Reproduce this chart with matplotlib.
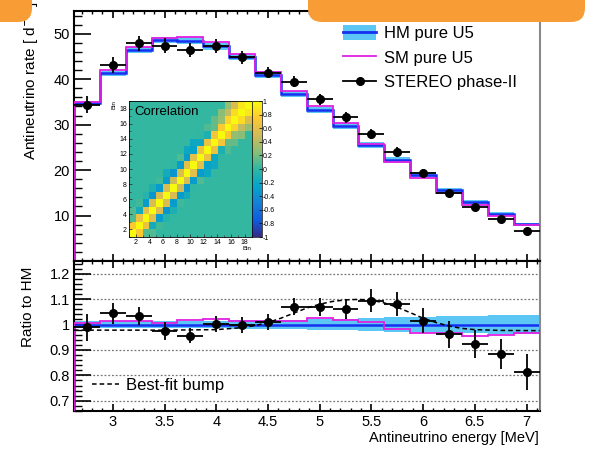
import numpy as np
import matplotlib.pyplot as plt
from matplotlib.colors import LinearSegmentedColormap
from matplotlib.lines import Line2D
from matplotlib.patches import Patch, FancyBboxPatch
from matplotlib.ticker import MultipleLocator, FixedLocator, FixedFormatter
from matplotlib.transforms import IdentityTransform

plt.rcParams['font.family'] = ['Liberation Sans', 'DejaVu Sans']
plt.rcParams['axes.unicode_minus'] = False

# Binned spectrum (0.25 MeV bins)
energy = [2.75, 3.0, 3.25, 3.5, 3.75, 4.0, 4.25, 4.5, 4.75, 5.0,
          5.25, 5.5, 5.75, 6.0, 6.25, 6.5, 6.75, 7.0]
hm_rate = [34.8, 41.3, 46.4, 48.6, 48.5, 47.2, 44.9, 41.0, 36.8, 33.3,
           29.8, 25.5, 22.2, 19.0, 15.6, 12.9, 10.4, 8.1]
hm_band = [0.014, 0.013, 0.013, 0.013, 0.014, 0.015, 0.016, 0.017, 0.018, 0.020,
           0.022, 0.025, 0.028, 0.031, 0.033, 0.035, 0.036, 0.037]
sm_ratio = [1.005, 1.015, 1.015, 1.008, 1.017, 1.020, 1.015, 1.013, 1.015, 1.026,
            1.017, 1.009, 0.982, 0.965, 0.965, 0.955, 0.960, 0.965]
data_rate = [34.4, 43.1, 47.9, 47.4, 46.4, 47.3, 44.8, 41.4, 39.4, 35.6,
             31.6, 27.9, 24.0, 19.3, 15.0, 11.9, 9.2, 6.6]
data_err = [1.80, 1.73, 1.62, 1.70, 1.46, 1.56, 1.35, 1.23, 1.21, 1.17,
            1.19, 1.15, 1.04, 0.95, 0.84, 0.71, 0.62, 0.57]

# Best-fit bump relative to HM
bump_e = [2.625, 3.5, 4.0, 4.25, 4.375, 4.5, 4.625, 4.75, 4.875, 5.0, 5.125, 5.25,
          5.375, 5.5, 5.625, 5.75, 5.875, 6.0, 6.125, 6.25, 6.375, 6.5, 6.75, 7.125]
bump_ratio = [0.978, 0.978, 0.980, 0.988, 0.996, 1.008, 1.025, 1.045, 1.065, 1.080, 1.091, 1.097,
              1.099, 1.096, 1.085, 1.068, 1.047, 1.025, 1.008, 0.994, 0.985, 0.980, 0.977, 0.976]

# Bin-to-bin correlation of the data, by distance from the diagonal
corr_off1 = [0.75, 0.65, 0.6, 0.55, 0.55, 0.55, 0.5, 0.55, 0.6, 0.6, 0.65, 0.65,
             0.7, 0.75, 0.8, 0.85, 0.9]
corr_off2 = [0.1, -0.15, -0.3, -0.35, -0.3, -0.3, -0.35, -0.3, -0.3, -0.25, -0.2,
             -0.1, 0.15, 0.3, 0.45, 0.55]
corr_off3 = [0.1, 0.05, -0.05, -0.1, 0.05, -0.15, 0.0, 0.1, -0.2, -0.2, 0.0, 0.1,
             0.15, 0.25, 0.3]
corr_rest = 0.02

energy = np.array(energy)
hm_rate = np.array(hm_rate)
hm_band = np.array(hm_band)
sm_ratio = np.array(sm_ratio)
data_rate = np.array(data_rate)
data_err = np.array(data_err)
edges = np.append(energy - 0.125, energy[-1] + 0.125)

n = len(energy)
corr = np.full((n, n), corr_rest)
for k, band in enumerate([corr_off1, corr_off2, corr_off3], start=1):
    for i, v in enumerate(band):
        corr[i, i + k] = v
        corr[i + k, i] = v
np.fill_diagonal(corr, 1.0)

# ROOT kBird palette
bird_r = [0.2082, 0.0592, 0.0780, 0.0232, 0.1802, 0.5301, 0.8186, 0.9956, 0.9764]
bird_g = [0.1664, 0.3599, 0.5041, 0.6419, 0.7178, 0.7492, 0.7328, 0.7862, 0.9832]
bird_b = [0.5293, 0.8684, 0.8385, 0.7914, 0.6425, 0.4662, 0.3499, 0.1968, 0.0539]
bird = LinearSegmentedColormap.from_list('bird', list(zip(bird_r, bird_g, bird_b)))

band_col = '#5CC6F5'
hm_col = '#1530F0'
sm_col = '#E020E0'

W, H = 590, 451
fig = plt.figure(figsize=(W / 100, H / 100), dpi=100)


def fx(px):
    return px / W


def fy(py):
    return 1 - py / H


ax = fig.add_axes([fx(74), fy(261), fx(539.5) - fx(74), fy(11) - fy(261)])
axr = fig.add_axes([fx(74), fy(411), fx(539.5) - fx(74), fy(261) - fy(411)])

for a in (ax, axr):
    a.set_xlim(2.625, 7.125)
    a.xaxis.set_major_locator(MultipleLocator(0.5))
    a.xaxis.set_minor_locator(MultipleLocator(0.1))
    a.tick_params(axis='x', which='major', direction='in', top=True, length=5, width=1.2)
    a.tick_params(axis='x', which='minor', direction='in', top=True, length=2.5, width=1.0)
    a.tick_params(axis='y', which='major', direction='in', right=False, length=12, width=1.2,
                  labelsize=10.5, pad=3)
    a.tick_params(axis='y', which='minor', direction='in', right=False, length=5.5, width=1.0)
    for s in ('left', 'top', 'bottom'):
        a.spines[s].set_linewidth(1.5)
    a.spines['right'].set_color('#8a8a8a')
    a.spines['right'].set_linewidth(1.5)

# Upper panel: spectra
ax.set_ylim(0, 55)
ax.yaxis.set_major_locator(FixedLocator([10, 20, 30, 40, 50]))
ax.yaxis.set_minor_locator(MultipleLocator(2))
ax.tick_params(axis='x', labelbottom=False)

ax.stairs(hm_rate * (1 + hm_band), edges, baseline=hm_rate * (1 - hm_band),
          fill=True, color=band_col, lw=0, zorder=1)
ax.stairs(hm_rate, edges, color=hm_col, lw=1.8, zorder=2)
ax.stairs(hm_rate * sm_ratio, edges, color=sm_col, lw=1.3, zorder=3)
ax.errorbar(energy, data_rate, xerr=0.125, yerr=data_err, fmt='o', color='black',
            ms=5.5, elinewidth=1.3, capsize=0, zorder=4)

fig.text(fx(30), fy(160), 'Antineutrino rate [ d$^{-1}$ ]', rotation=90,
         ha='center', va='bottom', fontsize=11)

handles = [(Patch(facecolor=band_col, edgecolor='none'), Line2D([], [], color=hm_col, lw=2)),
           Line2D([], [], color=sm_col, lw=1.3),
           Line2D([], [], color='black', lw=1.3, marker='o', ms=5.5)]
ax.legend(handles, ['HM pure U5', 'SM pure U5', 'STEREO phase-II'],
          loc='upper left', bbox_to_anchor=(fx(343), fy(25)), bbox_transform=fig.transFigure,
          frameon=False, fontsize=12, handlelength=2.0, handleheight=1.0,
          handletextpad=0.45, labelspacing=0.5, borderpad=0, borderaxespad=0)

# Lower panel: ratios to HM
axr.set_ylim(0.66, 1.25)
ratio_ticks = [0.7, 0.8, 0.9, 1.0, 1.1, 1.2]
axr.yaxis.set_major_locator(FixedLocator(ratio_ticks))
axr.yaxis.set_major_formatter(FixedFormatter(['0.7', '0.8', '0.9', '1', '1.1', '1.2']))
axr.yaxis.set_minor_locator(MultipleLocator(0.02))
axr.set_xticks(np.arange(3, 7.01, 0.5))
axr.set_xticklabels(['3', '3.5', '4', '4.5', '5', '5.5', '6', '6.5', '7'])
axr.tick_params(axis='x', labelsize=10.5, pad=3)
for t in ratio_ticks:
    axr.axhline(t, color='#777777', lw=0.9, ls=(0, (1.5, 1.5)), zorder=0)

axr.stairs(1 + hm_band, edges, baseline=1 - hm_band, fill=True, color=band_col, lw=0, zorder=1)
axr.stairs(np.ones(n), edges, color=hm_col, lw=1.8, zorder=2)
axr.stairs(sm_ratio, edges, color=sm_col, lw=1.3, zorder=3)
axr.plot(bump_e, bump_ratio, color='black', lw=1.1, ls=(0, (3, 2)), zorder=3)
axr.errorbar(energy, data_rate / hm_rate, xerr=0.125, yerr=data_err / hm_rate, fmt='o',
             color='black', ms=5.5, elinewidth=1.3, capsize=0, zorder=4)

fig.text(fx(28), fy(347), 'Ratio to HM', rotation=90, ha='center', va='bottom', fontsize=11)
fig.text(fx(539), fy(438), 'Antineutrino energy [MeV]', ha='right', va='center', fontsize=10.5)

axr.legend([Line2D([], [], color='black', lw=1.1, ls=(0, (3, 2)))], ['Best-fit bump'],
           loc='upper left', bbox_to_anchor=(fx(92), fy(378)), bbox_transform=fig.transFigure,
           frameon=False, fontsize=12, handlelength=1.6, handletextpad=0.45,
           borderpad=0, borderaxespad=0)

# Inset: correlation matrix with palette
axc = fig.add_axes([fx(129), fy(237), fx(251.5) - fx(129), fy(101) - fy(237)])
im = axc.imshow(corr, cmap=bird, vmin=-1, vmax=1, origin='lower',
                extent=(1, 19, 1, 19), aspect='auto', interpolation='nearest')
axc.set_xticks(range(2, 19, 2))
axc.set_yticks(range(2, 19, 2))
axc.xaxis.set_minor_locator(MultipleLocator(1))
axc.yaxis.set_minor_locator(MultipleLocator(1))
axc.tick_params(which='both', direction='in', labelsize=5, pad=1.5, color='#333333')
axc.tick_params(which='major', length=2.5, width=0.6)
axc.tick_params(which='minor', length=1.2, width=0.5)
for s in axc.spines.values():
    s.set_linewidth(0.6)
axc.text(0.04, 0.96, 'Correlation', transform=axc.transAxes, ha='left', va='top', fontsize=9.5)
fig.text(fx(114), fy(100), 'Bin', rotation=90, ha='center', va='top', fontsize=4.5)
fig.text(fx(251), fy(246), 'Bin', ha='right', va='top', fontsize=4.5)

cax = fig.add_axes([fx(251.5), fy(237), fx(262) - fx(251.5), fy(101) - fy(237)])
cb = fig.colorbar(im, cax=cax)
cb.set_ticks([-1, -0.8, -0.6, -0.4, -0.2, 0, 0.2, 0.4, 0.6, 0.8, 1])
cb.set_ticklabels(['-1', '-0.8', '-0.6', '-0.4', '-0.2', '0', '0.2', '0.4', '0.6', '0.8', '1'])
cb.ax.tick_params(labelsize=5, length=2, width=0.5, pad=0.5, direction='in')
cb.outline.set_linewidth(0.5)

# Slide overlay boxes along the top edge
orange = '#F89D35'
for x0, x1 in ((-40, 32), (308, 585)):
    box = FancyBboxPatch((x0, H - 22), x1 - x0, 60, boxstyle='round,pad=0,rounding_size=14',
                         facecolor=orange, edgecolor='none', transform=IdentityTransform(),
                         zorder=10)
    fig.add_artist(box)

fig.savefig('out.png', dpi=100)
